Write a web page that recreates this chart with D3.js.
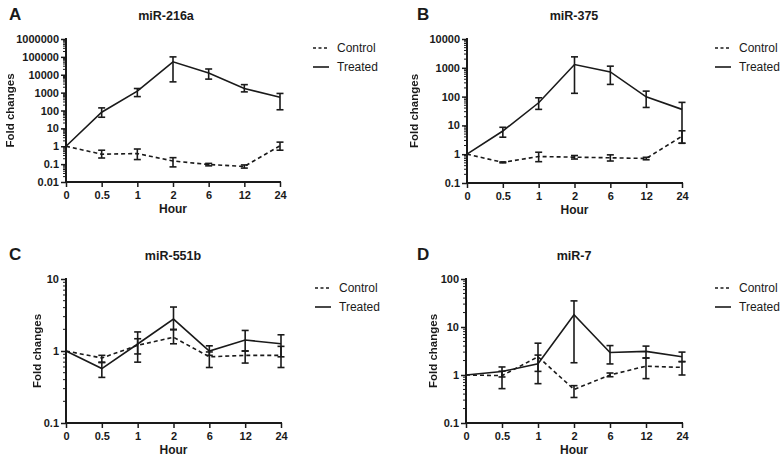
<!DOCTYPE html>
<html>
<head>
<meta charset="utf-8">
<script src="https://cdn.jsdelivr.net/npm/d3@7"></script>
<style>
  body { margin: 0; background: #fff; }
  svg { display: block; font-family: "Liberation Sans", Arial, sans-serif; }
</style>
</head>
<body>
<svg id="chart" width="780" height="461"></svg>
<script>
// x categories (hours)
const hours = ["0", "0.5", "1", "2", "6", "12", "24"];

// miR-216a
const ctrlA = [1, 0.36, 0.39, 0.15, 0.095, 0.074, 1.05];
const ctrlLoA = [1, 0.22, 0.18, 0.07, 0.08, 0.06, 0.6];
const ctrlHiA = [1, 0.6, 0.7, 0.23, 0.11, 0.09, 1.7];
const trtA = [1, 80, 1200, 53000, 12500, 1700, 550];
const trtLoA = [1, 42, 600, 4000, 5700, 1100, 110];
const trtHiA = [1, 140, 1700, 100000, 21000, 2800, 900];

// miR-375
const ctrlB = [1, 0.52, 0.83, 0.79, 0.75, 0.71, 4.2];
const ctrlLoB = [1, 0.5, 0.55, 0.68, 0.58, 0.64, 2.4];
const ctrlHiB = [1, 0.54, 1.17, 0.9, 0.95, 0.78, 6.5];
const trtB = [1, 6.4, 61, 1300, 720, 98, 36];
const trtLoB = [1, 3.9, 36, 130, 265, 42, 2.4];
const trtHiB = [1, 8.6, 91, 2400, 1140, 155, 63];

// miR-551b
const ctrlC = [1, 0.8, 1.2, 1.55, 0.83, 0.87, 0.87];
const ctrlLoC = [1, 0.7, 0.91, 1.26, 0.59, 0.68, 0.59];
const ctrlHiC = [1, 0.87, 1.48, 1.97, 0.97, 1.0, 1.16];
const trtC = [1, 0.57, 1.25, 2.78, 1.0, 1.42, 1.26];
const trtLoC = [1, 0.43, 0.7, 2.0, 0.87, 1.0, 0.83];
const trtHiC = [1, 0.69, 1.84, 4.08, 1.18, 1.93, 1.68];

// miR-7
const ctrlD = [1, 0.97, 2.4, 0.5, 1.0, 1.53, 1.44];
const ctrlLoD = [1, 0.52, 1.19, 0.34, 0.92, 0.84, 1.0];
const ctrlHiD = [1, 1.2, 2.6, 0.6, 1.1, 2.26, 1.9];
const trtD = [1, 1.18, 1.72, 18, 2.95, 3.1, 2.4];
const trtLoD = [1, 0.91, 0.66, 1.8, 1.7, 2.26, 1.9];
const trtHiD = [1, 1.47, 4.6, 35, 4.1, 4.0, 3.0];

const seriesNames = ["Control", "Treated"];

const panels = [
  { letter: "A", title: "miR-216a", domain: [0.01, 1e6], x0: 66, x1: 280, y0: 39, y1: 182,
    titleX: 166, letterX: 9, ylabX: 10, legX: 313,
    ctrl: [ctrlA, ctrlLoA, ctrlHiA], trt: [trtA, trtLoA, trtHiA] },
  { letter: "B", title: "miR-375", domain: [0.1, 1e4], x0: 467, x1: 682, y0: 39, y1: 183,
    titleX: 574, letterX: 417, ylabX: 414, legX: 715,
    ctrl: [ctrlB, ctrlLoB, ctrlHiB], trt: [trtB, trtLoB, trtHiB] },
  { letter: "C", title: "miR-551b", domain: [0.1, 10], x0: 66, x1: 281, y0: 279, y1: 423,
    titleX: 173, letterX: 9, ylabX: 37, legX: 315,
    ctrl: [ctrlC, ctrlLoC, ctrlHiC], trt: [trtC, trtLoC, trtHiC] },
  { letter: "D", title: "miR-7", domain: [0.1, 100], x0: 466, x1: 682, y0: 279, y1: 423,
    titleX: 574, letterX: 417, ylabX: 433, legX: 715,
    ctrl: [ctrlD, ctrlLoD, ctrlHiD], trt: [trtD, trtLoD, trtHiD] }
];

const ink = "#1a1a1a";
const svg = d3.select("#chart");

// grey-only filter for the rotated labels (kills coloured text fringes)
svg.append("defs").append("filter").attr("id", "mono")
  .append("feColorMatrix").attr("type", "saturate").attr("values", 0);

function fmt(v) {
  return v >= 1 ? d3.format("d")(v) : String(+v.toPrecision(1));
}

function drawPanel(p) {
  const g = svg.append("g");
  const x = d3.scalePoint().domain(hours).range([p.x0, p.x1]).padding(0);
  const y = d3.scaleLog().domain(p.domain).range([p.y1, p.y0]);

  // panel letter and title
  g.append("text").attr("x", p.letterX).attr("y", p.y0 - 19)
    .attr("font-size", 17).attr("font-weight", "bold").attr("fill", ink).text(p.letter);
  g.append("text").attr("x", p.titleX).attr("y", p.y0 - 19)
    .attr("text-anchor", "middle").attr("font-size", 12.5).attr("font-weight", "bold")
    .attr("fill", ink).text(p.title);

  // y axis: majors at powers of ten, minors in between
  const all = y.ticks();
  const majors = all.filter(v => Math.abs(Math.log10(v) - Math.round(Math.log10(v))) < 1e-9);
  const minors = all.filter(v => !majors.includes(v));
  const yAxis = g.append("g").attr("transform", `translate(${p.x0},0)`)
    .call(d3.axisLeft(y).tickValues(majors).tickFormat(fmt).tickSize(5).tickPadding(2));
  yAxis.select(".domain").attr("stroke", ink).attr("stroke-width", 2)
    .attr("d", `M0,${p.y1 + 1}V${p.y0 - 1}`);
  yAxis.selectAll(".tick line").attr("stroke", ink).attr("stroke-width", 1.5);
  yAxis.selectAll(".tick text").attr("font-size", 11).attr("font-weight", "bold")
    .attr("fill", ink).attr("font-family", null);
  g.append("g").selectAll("line").data(minors).join("line")
    .attr("x1", p.x0 - 3).attr("x2", p.x0)
    .attr("y1", d => y(d)).attr("y2", d => y(d))
    .attr("stroke", ink).attr("stroke-width", 1);

  // x axis
  const xAxis = g.append("g").attr("transform", `translate(0,${p.y1})`)
    .call(d3.axisBottom(x).tickSize(5).tickPadding(4));
  xAxis.select(".domain").attr("stroke", ink).attr("stroke-width", 2)
    .attr("d", `M${p.x0 - 1},0H${p.x1 + 1}`);
  xAxis.selectAll(".tick line").attr("stroke", ink).attr("stroke-width", 1.5);
  xAxis.selectAll(".tick text").attr("font-size", 11).attr("font-weight", "bold")
    .attr("fill", ink).attr("font-family", null);

  // axis titles
  g.append("text").attr("x", (p.x0 + p.x1) / 2).attr("y", p.y1 + 31)
    .attr("text-anchor", "middle").attr("font-size", 12).attr("font-weight", "bold")
    .attr("fill", ink).text("Hour");
  g.append("g").attr("filter", "url(#mono)").append("text")
    .attr("transform", `translate(${p.ylabX},${(p.y0 + p.y1) / 2}) rotate(-90)`)
    .attr("text-anchor", "middle").attr("dy", "0.35em")
    .attr("font-size", 11.5).attr("font-weight", "bold").attr("fill", ink).text("Fold changes");

  // series
  const series = [
    { name: seriesNames[0], vals: p.ctrl, dash: "4,3" },
    { name: seriesNames[1], vals: p.trt, dash: null }
  ];
  const line = d3.line().x(d => x(d.h)).y(d => y(d.v));
  series.forEach(s => {
    const pts = hours.map((h, i) => ({ h, v: s.vals[0][i], lo: s.vals[1][i], hi: s.vals[2][i] }));
    g.append("path").datum(pts).attr("d", line).attr("fill", "none")
      .attr("stroke", ink).attr("stroke-width", 1.6).attr("stroke-dasharray", s.dash);
    const eb = g.append("g").attr("stroke", ink).attr("stroke-width", 1.6);
    const bars = pts.filter(d => d.hi > d.lo);
    eb.selectAll(".v").data(bars).join("line")
      .attr("x1", d => x(d.h)).attr("x2", d => x(d.h))
      .attr("y1", d => y(d.lo)).attr("y2", d => y(d.hi));
    eb.selectAll(".cl").data(bars).join("line")
      .attr("x1", d => x(d.h) - 3.5).attr("x2", d => x(d.h) + 3.5)
      .attr("y1", d => y(d.lo)).attr("y2", d => y(d.lo));
    eb.selectAll(".ch").data(bars).join("line")
      .attr("x1", d => x(d.h) - 3.5).attr("x2", d => x(d.h) + 3.5)
      .attr("y1", d => y(d.hi)).attr("y2", d => y(d.hi));
  });

  // legend
  const leg = g.append("g").attr("transform", `translate(${p.legX},${p.y0 + 9})`);
  series.forEach((s, i) => {
    const row = leg.append("g").attr("transform", `translate(0,${i * 19})`);
    row.append("line").attr("x1", 0).attr("x2", 16).attr("stroke", ink)
      .attr("stroke-width", 1.6).attr("stroke-dasharray", s.dash ? "3,2.5" : null);
    row.append("text").attr("x", 24).attr("dy", "0.35em").attr("font-size", 12)
      .attr("fill", ink).text(s.name);
  });
}

panels.forEach(drawPanel);
</script>
</body>
</html>
